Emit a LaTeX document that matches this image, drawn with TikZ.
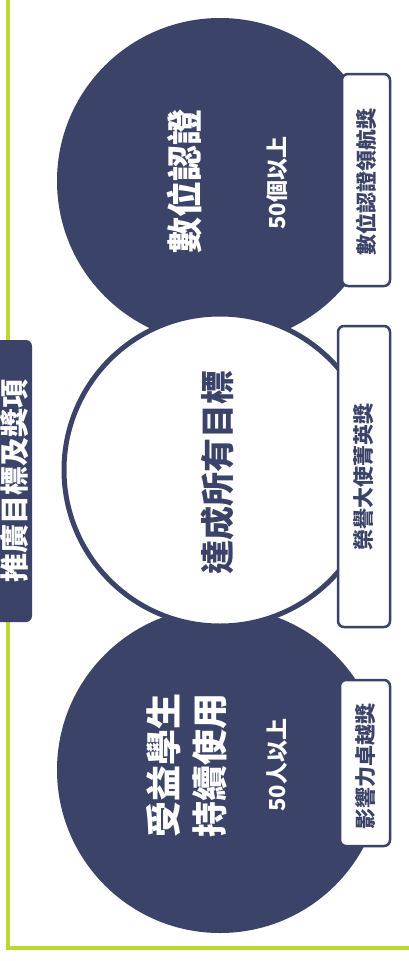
\documentclass[tikz,border=0pt]{standalone}
\usepackage{fontspec}
\newfontfamily\cjk{Noto Sans CJK TC}
\definecolor{navy}{RGB}{59,68,104}
\definecolor{lime}{RGB}{190,214,48}
\begin{document}
\begin{tikzpicture}[x=1pt,y=-1pt,
  dark/.style={circle,fill=navy,draw=none,minimum size=326pt,inner sep=0pt},
  light/.style={circle,fill=white,draw=navy,line width=5pt,minimum size=312pt,inner sep=0pt},
  award/.style={rectangle,rounded corners=6pt,draw=navy,fill=white,line width=2.5pt,inner sep=0pt},
  awardtxt/.style={rotate=90,text=navy,font=\cjk\bfseries\fontsize{21}{24}\selectfont},
  bigtxt/.style={rotate=90,align=center,font=\cjk\bfseries\fontsize{36}{46}\selectfont},
  subtxt/.style={rotate=90,text=white,font=\cjk\bfseries\fontsize{22}{26}\selectfont}]
\useasboundingbox (0,0) rectangle (409,961);
\fill[white] (0,0) rectangle (409,961);
% green frame
\draw[lime,line width=3.5pt] (8,-5) -- (8,948) -- (415,948);
% title tab
\node[rectangle,rounded corners=6pt,fill=navy,minimum width=50pt,minimum height=282pt,inner sep=0pt] (tab) at (7,481) {};
\node[rotate=90,text=white,font=\cjk\bfseries\fontsize{29}{34}\selectfont] (title) at (15,481) {推廣目標及獎項};
% circles
\node[dark] (c1) at (220,181) {};
\node[dark] (c3) at (220,770) {};
\node[light] (c2) at (220,470) {};
% circle texts
\node[bigtxt,text=white] (t1) at (185,181) {數位認證};
\node[subtxt] (s1) at (277,183) {50個以上};
\node[bigtxt,text=navy,font=\cjk\bfseries\fontsize{34}{40}\selectfont] (t2) at (218,472) {達成所有目標};
\node[bigtxt,text=white] (t3) at (187,765) {受益學生\\持續使用};
\node[subtxt] (s3) at (277,765) {50人以上};
% award boxes
\node[award,minimum width=48pt,minimum height=212pt] (b1) at (366,180) {};
\node[awardtxt] (a1) at (366,182) {數位認證領航獎};
\node[award,minimum width=52pt,minimum height=301pt] (b2) at (364,476.5) {};
\node[awardtxt] (a2) at (364,477) {榮譽大使菁英獎};
\node[award,minimum width=50pt,minimum height=166pt] (b3) at (365,763) {};
\node[awardtxt] (a3) at (365,766) {影響力卓越獎};
\end{tikzpicture}
\end{document}
